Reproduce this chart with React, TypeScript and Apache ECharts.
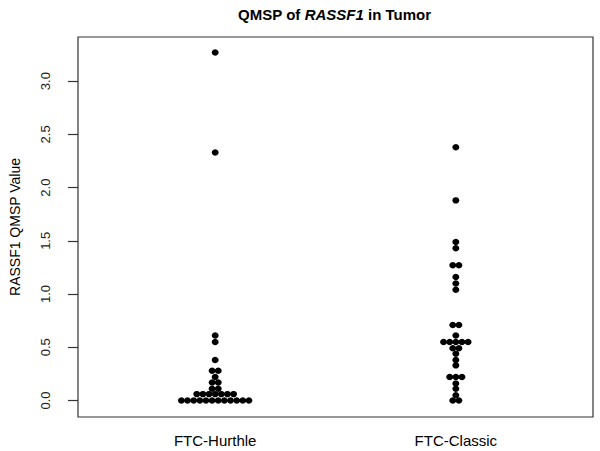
import React, { useEffect, useRef } from "react";
import * as echarts from "echarts";

const categories = ["FTC-Hurthle", "FTC-Classic"];

const hurthleValues = [
  3.27, 2.33, 0.61, 0.55, 0.38, 0.28, 0.28, 0.22, 0.17, 0.17, 0.11, 0.11,
  0.06, 0.06, 0.06, 0.06, 0.06, 0.06, 0.06,
  0, 0, 0, 0, 0, 0, 0, 0, 0, 0, 0, 0,
];

const classicValues = [
  2.38, 1.88, 1.49, 1.43, 1.27, 1.27, 1.16, 1.1, 1.04, 0.71, 0.71, 0.61,
  0.55, 0.55, 0.55, 0.55, 0.55, 0.49, 0.49, 0.44, 0.38, 0.33,
  0.22, 0.22, 0.22, 0.16, 0.11, 0.05, 0, 0,
];

const yTicks = [0, 0.5, 1, 1.5, 2, 2.5, 3];
const xTicks = [1, 2];

const FONT = "'Liberation Sans', Arial, Helvetica, sans-serif";

function swarm(values: number[], center: number, step: number) {
  const counts = new Map<number, number>();
  values.forEach((v) => counts.set(v, (counts.get(v) || 0) + 1));
  const seen = new Map<number, number>();
  return values.map((v) => {
    const n = counts.get(v) || 1;
    const k = seen.get(v) || 0;
    seen.set(v, k + 1);
    return [center + (k - (n - 1) / 2) * step, v];
  });
}

export default function App() {
  const ref = useRef<HTMLDivElement>(null);
  useEffect(() => {
    if (!ref.current) return;
    const chart = echarts.init(ref.current, null, { renderer: "svg" });
    const step = 0.0255;
    chart.setOption({
      animation: false,
      backgroundColor: "#ffffff",
      title: {
        text: "{a|QMSP of }{b|RASSF1}{a| in Tumor}",
        left: 334.5,
        top: 7,
        textAlign: "center",
        padding: 0,
        textStyle: {
          rich: {
            a: { fontFamily: FONT, fontSize: 15, fontWeight: "bold", color: "#000" },
            b: { fontFamily: FONT, fontSize: 15, fontWeight: "bold", fontStyle: "italic", color: "#000" },
          },
        },
      },
      grid: {
        left: 76,
        right: 7,
        top: 37,
        bottom: 34,
        show: true,
        borderColor: "#333",
        borderWidth: 1.2,
        backgroundColor: "transparent",
      },
      xAxis: {
        type: "value",
        min: 0.43,
        max: 2.57,
        splitLine: { show: false },
        axisLine: { show: false },
        axisTick: { show: false },
        axisLabel: {
          customValues: xTicks,
          formatter: (v: number) => categories[Math.round(v) - 1] || "",
          fontFamily: FONT,
          fontSize: 15,
          color: "#000",
          margin: 16,
        },
      },
      yAxis: {
        type: "value",
        min: -0.155,
        max: 3.415,
        name: "RASSF1 QMSP Value",
        nameLocation: "middle",
        nameRotate: 90,
        nameGap: 56,
        nameTextStyle: { fontFamily: FONT, fontSize: 14, color: "#000" },
        splitLine: { show: false },
        axisLine: { show: false },
        axisTick: {
          show: true,
          inside: false,
          length: 10,
          customValues: yTicks,
          lineStyle: { color: "#333", width: 1.2 },
        },
        axisLabel: {
          customValues: yTicks,
          rotate: 90,
          formatter: (v: number) => v.toFixed(1),
          fontFamily: FONT,
          fontSize: 13,
          color: "#222",
          margin: 26,
        },
      },
      series: [
        {
          type: "scatter",
          name: categories[0],
          data: swarm(hurthleValues, 1, step),
          symbol: "circle",
          symbolSize: [7, 6.4],
          itemStyle: { color: "#000", opacity: 1 },
        },
        {
          type: "scatter",
          name: categories[1],
          data: swarm(classicValues, 2, step),
          symbol: "circle",
          symbolSize: [7, 6.4],
          itemStyle: { color: "#000", opacity: 1 },
        },
      ],
    });
    return () => chart.dispose();
  }, []);
  return (
    <div
      ref={ref}
      style={{ position: "absolute", left: 0, top: 0, width: 600, height: 451 }}
    />
  );
}
